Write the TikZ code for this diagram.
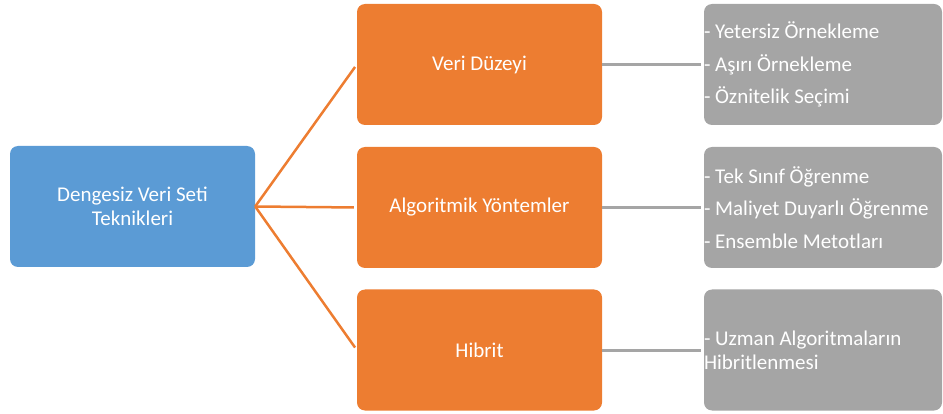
\documentclass[tikz,border=0pt]{standalone}
\usepackage{fontspec}
\setmainfont{Carlito}
\definecolor{cblue}{HTML}{5B9BD5}
\definecolor{corange}{HTML}{ED7D31}
\definecolor{cgray}{HTML}{A5A5A5}
\begin{document}
\begin{tikzpicture}[x=1pt,y=-1pt]
\tikzset{
  box/.style={rounded corners=8pt, minimum width=245pt, minimum height=121pt, inner sep=0pt, text=white, align=center, font=\fontsize{21}{24}\selectfont},
  bluebox/.style={box, fill=cblue},
  orangebox/.style={box, fill=corange},
  graybox/.style={box, fill=cgray, minimum width=238pt},
  graytext/.style={anchor=west, align=left, inner sep=0pt, text=white},
  oline/.style={draw=corange, line width=2.5pt, shorten >=3pt},
  gline/.style={draw=cgray, line width=3pt, shorten >=3pt}
}
\useasboundingbox (0,0) rectangle (943,414);
\node[bluebox] (b) at (132.5,206.5) {Dengesiz Veri Seti\\Teknikleri};
\node[orangebox] (o1) at (479.5,64.5) {Veri Düzeyi};
\node[orangebox] (o2) at (479.5,207.5) {Algoritmik Yöntemler};
\node[orangebox] (o3) at (479.5,350) {Hibrit};
\node[graybox] (g1) at (823,64.5) {};
\node[graybox] (g2) at (823,207.5) {};
\node[graybox] (g3) at (823,350) {};
\node[graytext, font=\fontsize{21}{32.5}\selectfont] (t1) at (g1.west) {- Yetersiz Örnekleme\\- Aşırı Örnekleme\\- Öznitelik Seçimi};
\node[graytext, font=\fontsize{21}{32.5}\selectfont] (t2) at (g2.west) {- Tek Sınıf Öğrenme\\- Maliyet Duyarlı Öğrenme\\- Ensemble Metotları};
\node[graytext, font=\fontsize{21}{24}\selectfont] (t3) at (g3.west) {- Uzman Algoritmaların\\Hibritlenmesi};
\draw[oline] (b.east) -- (o1.west);
\draw[oline] (b.east) -- (o2.west);
\draw[oline] (b.east) -- (o3.west);
\draw[gline] (o1.east) -- (g1.west);
\draw[gline] (o2.east) -- (g2.west);
\draw[gline] (o3.east) -- (g3.west);
\end{tikzpicture}
\end{document}
